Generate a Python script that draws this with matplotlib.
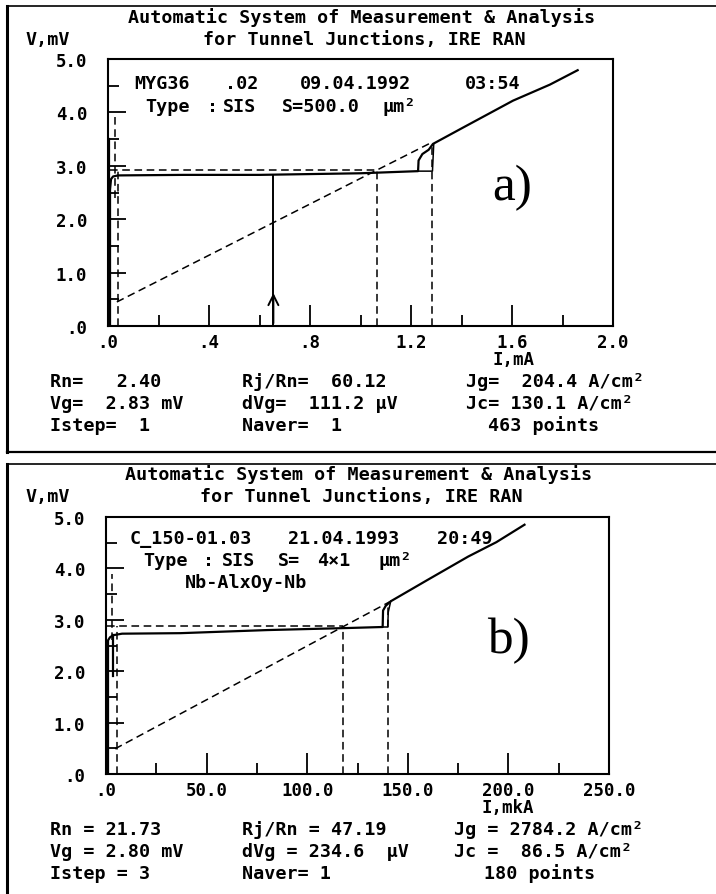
import numpy as np
import matplotlib.pyplot as plt
from matplotlib.lines import Line2D
from matplotlib.ticker import MultipleLocator, FuncFormatter

# ---- panel a) : MYG36, I in mA, V in mV
a_iv_i = [0.008, 0.008, 0.012, 0.02, 0.04, 0.3, 0.6, 1.0, 1.228, 1.23, 1.245, 1.27, 1.287, 1.4, 1.604, 1.75, 1.86]
a_iv_v = [0.0, 2.55, 2.75, 2.80, 2.82, 2.83, 2.83, 2.86, 2.90, 3.10, 3.22, 3.30, 3.41, 3.70, 4.22, 4.52, 4.79]
a_step_i = [1.228, 1.285, 1.288, 1.29]
a_step_v = [2.90, 2.90, 3.20, 3.41]
a_sc_i = [0.004, 0.004]
a_sc_v = [0.0, 3.5]
a_rn_i = [0.035, 1.065, 1.287]          # normal-state (Rn) line
a_rn_v = [0.45, 2.92, 3.45]
a_vg_i = [0.008, 1.065]                 # gap level
a_vg_v = [2.92, 2.92]
a_vert_i = [0.04, 1.065, 1.285]         # dashed drop lines
a_vert_v = [2.92, 2.92, 3.42]
a_aux_i = [0.028, 0.028]
a_aux_v = [2.4, 3.95]
a_ic = 0.655                            # critical current marker
a_ic_top = 2.83
a_ic_tip = 0.67

# ---- panel b) : C_150-01.03, I in mkA, V in mV
b_iv_i = [1.0, 1.0, 2.0, 3.5, 8.0, 37.0, 80.0, 120.0, 137.5, 137.7, 139.0, 141.5, 160.0, 180.0, 194.0, 208.0]
b_iv_v = [0.0, 2.60, 2.66, 2.70, 2.73, 2.74, 2.80, 2.84, 2.86, 3.18, 3.27, 3.36, 3.78, 4.23, 4.51, 4.85]
b_step_i = [137.5, 140.0, 140.3, 141.5]
b_step_v = [2.86, 2.86, 3.15, 3.36]
b_sc_i = [3.5, 3.5]
b_sc_v = [1.9, 2.70]
b_rn_i = [4.5, 118.0, 141.0]
b_rn_v = [0.49, 2.87, 3.35]
b_vg_i = [0.5, 118.0]
b_vg_v = [2.87, 2.87]
b_vert_i = [5.5, 118.0, 140.0]
b_vert_v = [2.87, 2.87, 3.30]
b_aux_i = [3.0, 3.0]
b_aux_v = [2.6, 3.9]

W, H = 716, 895
MONO = 'DejaVu Sans Mono'
FS = 13.2
fig = plt.figure(figsize=(W / 100, H / 100), dpi=100)


def rect(l, t, r, b):
    return [l / W, 1 - b / H, (r - l) / W, (b - t) / H]


def ftxt(x, y, s, size=FS, ha='left', **kw):
    fig.text(x / W, 1 - y / H, s, fontsize=size, ha=ha, va='center',
             family=MONO, fontweight='bold', **kw)


def fmt(v, pos):
    s = f"{v:.1f}"
    return s[1:] if s.startswith("0.") else s


def frame(top, bottom):
    kw = dict(transform=fig.transFigure, color='black')
    fig.add_artist(Line2D([7 / W, 7 / W], [1 - top / H, 1 - bottom / H], lw=2.2, **kw))
    fig.add_artist(Line2D([7 / W, 1], [1 - top / H, 1 - top / H], lw=1.2, **kw))
    if bottom < H:
        fig.add_artist(Line2D([7 / W, 1], [1 - bottom / H, 1 - bottom / H], lw=1.6, **kw))


def panel(box, xmax, xmajor, d, texts, tag, xname, xname_x, rows, y0):
    ax = fig.add_axes(rect(*box))
    ax.set_xlim(0, xmax)
    ax.set_ylim(0, 5.0)
    for s in ax.spines.values():
        s.set_linewidth(1.5)
    ax.xaxis.set_major_locator(MultipleLocator(xmajor))
    ax.xaxis.set_minor_locator(MultipleLocator(xmajor / 2))
    ax.yaxis.set_major_locator(MultipleLocator(1.0))
    ax.yaxis.set_minor_locator(MultipleLocator(0.5))
    ax.xaxis.set_major_formatter(FuncFormatter(fmt))
    ax.yaxis.set_major_formatter(FuncFormatter(fmt))
    ax.tick_params(which='major', axis='x', direction='in', length=15, width=1.3,
                   top=False, pad=5, labelsize=12.5)
    ax.tick_params(which='minor', axis='x', direction='in', length=8, width=1.3, top=False)
    ax.tick_params(which='major', axis='y', direction='in', length=13, width=1.3,
                   right=False, pad=15, labelsize=12.5)
    ax.tick_params(which='minor', axis='y', direction='in', length=8, width=1.3, right=False)
    for lab in ax.get_xticklabels() + ax.get_yticklabels():
        lab.set_family(MONO)
        lab.set_fontweight('bold')

    iv_i, iv_v, st_i, st_v, sc_i, sc_v, rn_i, rn_v, vg_i, vg_v, vt_i, vt_v, ax_i, ax_v = d
    dash = dict(color='black', lw=1.1, ls=(0, (5, 3)))
    ax.plot(rn_i, rn_v, **dash)
    ax.plot(vg_i, vg_v, **dash)
    for xi, yi in zip(vt_i, vt_v):
        ax.plot([xi, xi], [0, yi], **dash)
    ax.plot(ax_i, ax_v, **dash)
    ax.plot(sc_i, sc_v, color='black', lw=1.6)
    ax.plot(iv_i, iv_v, color='black', lw=1.6)
    ax.plot(st_i, st_v, color='black', lw=1.1)

    for x, y, s in texts:
        ftxt(x, y, s)
    ax.text(0.8, 0.52, tag, transform=ax.transAxes, fontsize=37,
            family='Liberation Serif', ha='center', va='center')
    ftxt(xname_x, box[3] + 33, xname, size=12.5, ha='center')
    for k, row in enumerate(rows):
        for x, s in row:
            ftxt(x, y0 + k * 22, s)
    return ax


# ---------------- panel a
frame(7, 453)
ftxt(128, 18, "Automatic System of Measurement & Analysis")
ftxt(25, 40, "V,mV")
ftxt(203, 40, "for Tunnel Junctions, IRE RAN")
ax1 = panel((108, 60, 613, 327), 2.0, 0.4,
            (a_iv_i, a_iv_v, a_step_i, a_step_v, a_sc_i, a_sc_v, a_rn_i, a_rn_v,
             a_vg_i, a_vg_v, a_vert_i, a_vert_v, a_aux_i, a_aux_v),
            [(134, 84, "MYG36"), (225, 84, ".02"), (300, 84, "09.04.1992"), (465, 84, "03:54"),
             (145, 107, "Type"), (207, 107, ":"), (223, 107, "SIS"),
             (282, 107, "S=500.0"), (383, 107, "\u00b5m\u00b2")],
            "a)", "I,mA", 514,
            [[(50, "Rn=   2.40"), (242, "Rj/Rn=  60.12"), (466, "Jg=  204.4 A/cm\u00b2")],
             [(50, "Vg=  2.83 mV"), (242, "dVg=  111.2 \u00b5V"), (466, "Jc= 130.1 A/cm\u00b2")],
             [(50, "Istep=  1"), (242, "Naver=  1"), (488, "463 points")]],
            382)
ax1.plot([a_ic, a_ic], [0, a_ic_top], color='black', lw=1.4)
ax1.annotate("", xy=(a_ic, a_ic_tip), xytext=(a_ic, 0.0),
             arrowprops=dict(arrowstyle='->', lw=1.4, color='black', mutation_scale=18))

# ---------------- panel b
frame(465, 900)
ftxt(125, 475, "Automatic System of Measurement & Analysis")
ftxt(25, 497, "V,mV")
ftxt(200, 497, "for Tunnel Junctions, IRE RAN")
ax2 = panel((106, 518, 609, 775), 250.0, 50.0,
            (b_iv_i, b_iv_v, b_step_i, b_step_v, b_sc_i, b_sc_v, b_rn_i, b_rn_v,
             b_vg_i, b_vg_v, b_vert_i, b_vert_v, b_aux_i, b_aux_v),
            [(130, 539, "C_150-01.03"), (288, 539, "21.04.1993"), (437, 539, "20:49"),
             (143, 561, "Type"), (203, 561, ":"), (222, 561, "SIS"),
             (278, 561, "S="), (317, 561, "4\u00d71"), (378, 561, "\u00b5m\u00b2"),
             (185, 583, "Nb-AlxOy-Nb")],
            "b)", "I,mkA", 508,
            [[(50, "Rn = 21.73"), (242, "Rj/Rn = 47.19"), (454, "Jg = 2784.2 A/cm\u00b2")],
             [(50, "Vg = 2.80 mV"), (242, "dVg = 234.6  \u00b5V"), (454, "Jc =  86.5 A/cm\u00b2")],
             [(50, "Istep = 3"), (242, "Naver= 1"), (484, "180 points")]],
            830)

fig.savefig("out.png", dpi=100)
